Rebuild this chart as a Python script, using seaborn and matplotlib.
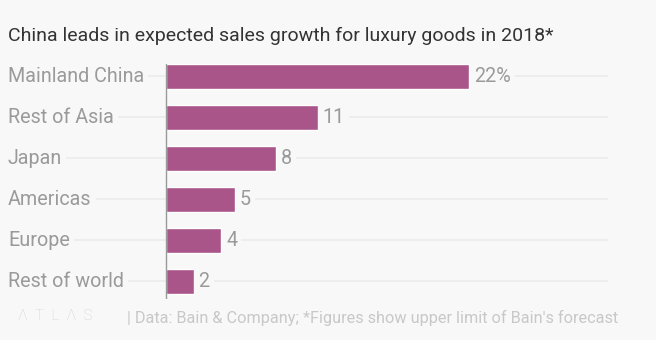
import matplotlib
matplotlib.use("Agg")
import matplotlib.pyplot as plt
import seaborn as sns
import pandas as pd

categories = ["Mainland China", "Rest of Asia", "Japan", "Americas", "Europe", "Rest of world"]
values = [22, 11, 8, 5, 4, 2]
value_labels = ["22%", "11", "8", "5", "4", "2"]

title = "China leads in expected sales growth for luxury goods in 2018*"
source = "| Data: Bain & Company; *Figures show upper limit of Bain's forecast"

BG = "#f8f8f8"
BAR = "#a9558a"
LABEL = "#9a9a9a"

sns.set_theme(style="white")
plt.rcParams["font.family"] = ["Roboto", "DejaVu Sans"]

W, H = 656, 340
fig = plt.figure(figsize=(W / 100, H / 100), dpi=100)
fig.patch.set_facecolor(BG)

ax_left, ax_right = 8, 608
ax_top, ax_bottom = 64, 299
ax = fig.add_axes([ax_left / W, 1 - ax_bottom / H, (ax_right - ax_left) / W, (ax_bottom - ax_top) / H])
ax.set_facecolor(BG)

df = pd.DataFrame({"cat": categories, "val": values})
sns.barplot(data=df, y="cat", x="val", orient="h", color=BAR, width=0.61,
            saturation=1, ax=ax, zorder=3)

px_per_unit = (469 - 166) / 22.0
xmin = -(166 - ax_left) / px_per_unit
xmax = (ax_right - 166) / px_per_unit
ax.set_xlim(xmin, xmax)
ax.set_ylim(5 + 18 / 41, -0.305)

for s in ax.spines.values():
    s.set_visible(False)
ax.set_xticks([])
ax.set_yticks(range(len(categories)))
ax.set_yticklabels([])
ax.tick_params(left=False)
ax.set_xlabel("")
ax.set_ylabel("")
ax.yaxis.grid(True, color="#ebebeb", linewidth=1.2, zorder=0)
ax.set_axisbelow(True)

ax.axvline(0, color="#999999", linewidth=1, zorder=4)

for i, (c, v, lab) in enumerate(zip(categories, values, value_labels)):
    ax.text(xmin, i, c, ha="left", va="center", fontsize=14.2, color=LABEL,
            zorder=5, bbox=dict(facecolor=BG, edgecolor="none", pad=3))
    ax.text(v + 5 / px_per_unit, i, lab, ha="left", va="center", fontsize=14.2,
            color=LABEL, zorder=5,
            bbox=dict(facecolor=BG, edgecolor="none", pad=3))

fig.text(8 / W, 1 - 36 / H, title, ha="left", va="center", fontsize=14,
         color="#333333")
fig.text(18 / W, 1 - 316 / H, "\u039b  T  L  \u039b  S", ha="left", va="center",
         fontsize=11, color="#d2d2d2", fontweight="light")
fig.text(127 / W, 1 - 318 / H, source, ha="left", va="center", fontsize=11.7,
         color="#c8c8c8")

fig.savefig("out.png", dpi=100, facecolor=BG)
